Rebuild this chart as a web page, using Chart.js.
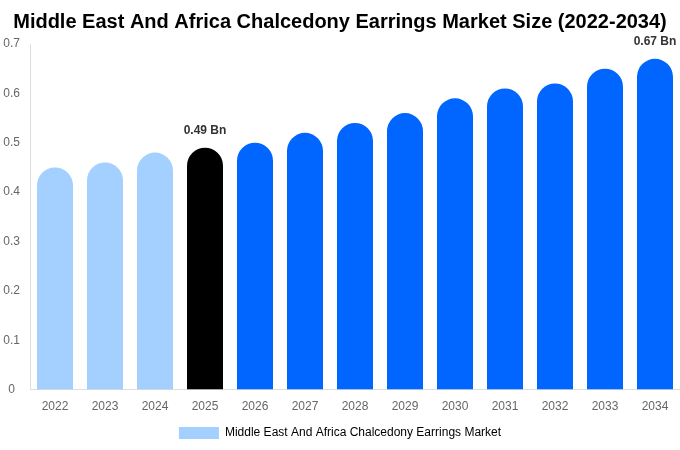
<!DOCTYPE html>
<html>
<head>
<meta charset="utf-8">
<script src="https://cdn.jsdelivr.net/npm/chart.js@4"></script>
<style>
  html, body { margin: 0; padding: 0; background: #fff; }
  #wrap { width: 680px; height: 450px; }
</style>
</head>
<body>
<div id="wrap"><canvas id="chart"></canvas></div>
<script>
const years = ["2022", "2023", "2024", "2025", "2026", "2027", "2028", "2029", "2030", "2031", "2032", "2033", "2034"];
const marketSize = [0.45, 0.46, 0.48, 0.49, 0.50, 0.52, 0.54, 0.56, 0.59, 0.61, 0.62, 0.65, 0.67];
const barColors = ["#a3d0ff", "#a3d0ff", "#a3d0ff", "#000000", "#0066ff", "#0066ff", "#0066ff", "#0066ff", "#0066ff", "#0066ff", "#0066ff", "#0066ff", "#0066ff"];
const labelled = { 3: "0.49 Bn", 12: "0.67 Bn" };

// draws the "x Bn" notes above the chosen bars
const barNotes = {
  id: "barNotes",
  afterDatasetsDraw(chart) {
    const ctx = chart.ctx;
    const bars = chart.getDatasetMeta(0).data;
    ctx.save();
    ctx.font = "bold 12px 'Liberation Sans', Arial, sans-serif";
    ctx.fillStyle = "#333";
    ctx.textAlign = "center";
    ctx.textBaseline = "middle";
    Object.keys(labelled).forEach((i) => {
      const b = bars[i];
      ctx.fillText(labelled[i], b.x, b.y - 17);
    });
    ctx.restore();
  },
};

const font = "'Liberation Sans', Arial, sans-serif";

new Chart(document.getElementById("chart").getContext("2d"), {
  type: "bar",
  data: {
    labels: years,
    datasets: [{
      label: "Middle East And Africa Chalcedony Earrings Market",
      data: marketSize,
      backgroundColor: barColors,
      borderRadius: 100,
      borderSkipped: "bottom",
    }],
  },
  options: {
    responsive: true,
    maintainAspectRatio: false,
    animation: false,
    layout: { padding: { left: 0, right: 0, top: 0, bottom: 1 } },
    plugins: {
      title: {
        display: true,
        text: "Middle East And Africa Chalcedony Earrings Market Size (2022-2034)",
        color: "#000",
        font: { size: 20, weight: "bold", family: font },
        padding: { top: 10, bottom: 10 },
      },
      legend: {
        position: "bottom",
        labels: {
          color: "#666",
          boxWidth: 40,
          boxHeight: 12,
          padding: 3,
          font: { size: 12, family: font },
          generateLabels: (chart) => [{
            text: chart.data.datasets[0].label,
            fillStyle: "#a3d0ff",
            strokeStyle: "#a3d0ff",
            lineWidth: 0,
            datasetIndex: 0,
          }],
        },
      },
      tooltip: { enabled: false },
    },
    scales: {
      x: {
        grid: { display: false, drawTicks: false },
        border: { display: true, color: "#ddd" },
        ticks: { color: "#666", padding: 10, font: { size: 12, family: font } },
      },
      y: {
        min: 0,
        max: 0.7,
        afterFit: (scale) => { scale.width = 30; },
        grid: { display: false, drawTicks: false },
        border: { display: true, color: "#ddd" },
        ticks: { stepSize: 0.1, color: "#666", padding: 10, crossAlign: "center", font: { size: 12, family: font } },
      },
    },
  },
  plugins: [barNotes],
});
</script>
</body>
</html>
